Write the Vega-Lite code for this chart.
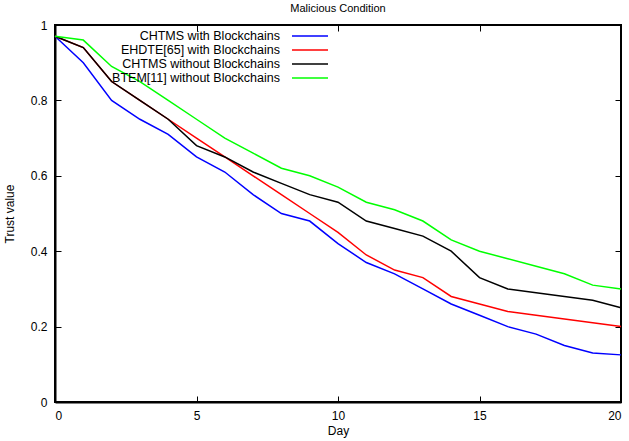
{
  "$schema": "https://vega.github.io/schema/vega-lite/v6.json",
  "autosize": "none",
  "width": 566,
  "height": 377,
  "padding": {"left": 55, "top": 25, "right": 8, "bottom": 39},
  "title": {"text": "Malicious Condition", "fontSize": 11, "fontWeight": "normal", "font": "Liberation Sans", "offset": 5, "anchor": "middle", "color": "black"},
  "config": {
    "font": "Liberation Sans",
    "view": {"stroke": "black", "strokeWidth": 2},
    "axis": {"grid": false, "domainColor": "black", "domainWidth": 2, "tickColor": "black", "tickWidth": 1, "labelColor": "black", "titleColor": "black", "labelFontSize": 12, "titleFontSize": 12, "titleFontWeight": "normal", "labelFont": "Liberation Sans", "titleFont": "Liberation Sans"}
  },
  "data": {"values": [
    {"day":0,"s":"CHTMS with Blockchains","v":0.97},{"day":1,"s":"CHTMS with Blockchains","v":0.90},{"day":2,"s":"CHTMS with Blockchains","v":0.80},{"day":3,"s":"CHTMS with Blockchains","v":0.75},{"day":4,"s":"CHTMS with Blockchains","v":0.71},{"day":5,"s":"CHTMS with Blockchains","v":0.65},{"day":6,"s":"CHTMS with Blockchains","v":0.61},{"day":7,"s":"CHTMS with Blockchains","v":0.55},{"day":8,"s":"CHTMS with Blockchains","v":0.50},{"day":9,"s":"CHTMS with Blockchains","v":0.48},{"day":10,"s":"CHTMS with Blockchains","v":0.42},{"day":11,"s":"CHTMS with Blockchains","v":0.37},{"day":12,"s":"CHTMS with Blockchains","v":0.34},{"day":13,"s":"CHTMS with Blockchains","v":0.30},{"day":14,"s":"CHTMS with Blockchains","v":0.26},{"day":15,"s":"CHTMS with Blockchains","v":0.23},{"day":16,"s":"CHTMS with Blockchains","v":0.20},{"day":17,"s":"CHTMS with Blockchains","v":0.18},{"day":18,"s":"CHTMS with Blockchains","v":0.15},{"day":19,"s":"CHTMS with Blockchains","v":0.13},{"day":20,"s":"CHTMS with Blockchains","v":0.125},
    {"day":0,"s":"EHDTE[65] with Blockchains","v":0.97},{"day":1,"s":"EHDTE[65] with Blockchains","v":0.94},{"day":2,"s":"EHDTE[65] with Blockchains","v":0.85},{"day":3,"s":"EHDTE[65] with Blockchains","v":0.80},{"day":4,"s":"EHDTE[65] with Blockchains","v":0.75},{"day":5,"s":"EHDTE[65] with Blockchains","v":0.70},{"day":6,"s":"EHDTE[65] with Blockchains","v":0.65},{"day":7,"s":"EHDTE[65] with Blockchains","v":0.60},{"day":8,"s":"EHDTE[65] with Blockchains","v":0.55},{"day":9,"s":"EHDTE[65] with Blockchains","v":0.50},{"day":10,"s":"EHDTE[65] with Blockchains","v":0.45},{"day":11,"s":"EHDTE[65] with Blockchains","v":0.39},{"day":12,"s":"EHDTE[65] with Blockchains","v":0.35},{"day":13,"s":"EHDTE[65] with Blockchains","v":0.33},{"day":14,"s":"EHDTE[65] with Blockchains","v":0.28},{"day":15,"s":"EHDTE[65] with Blockchains","v":0.26},{"day":16,"s":"EHDTE[65] with Blockchains","v":0.24},{"day":17,"s":"EHDTE[65] with Blockchains","v":0.23},{"day":18,"s":"EHDTE[65] with Blockchains","v":0.22},{"day":19,"s":"EHDTE[65] with Blockchains","v":0.21},{"day":20,"s":"EHDTE[65] with Blockchains","v":0.20},
    {"day":0,"s":"CHTMS without Blockchains","v":0.97},{"day":1,"s":"CHTMS without Blockchains","v":0.94},{"day":2,"s":"CHTMS without Blockchains","v":0.85},{"day":3,"s":"CHTMS without Blockchains","v":0.80},{"day":4,"s":"CHTMS without Blockchains","v":0.75},{"day":5,"s":"CHTMS without Blockchains","v":0.68},{"day":6,"s":"CHTMS without Blockchains","v":0.65},{"day":7,"s":"CHTMS without Blockchains","v":0.61},{"day":8,"s":"CHTMS without Blockchains","v":0.58},{"day":9,"s":"CHTMS without Blockchains","v":0.55},{"day":10,"s":"CHTMS without Blockchains","v":0.53},{"day":11,"s":"CHTMS without Blockchains","v":0.48},{"day":12,"s":"CHTMS without Blockchains","v":0.46},{"day":13,"s":"CHTMS without Blockchains","v":0.44},{"day":14,"s":"CHTMS without Blockchains","v":0.40},{"day":15,"s":"CHTMS without Blockchains","v":0.33},{"day":16,"s":"CHTMS without Blockchains","v":0.30},{"day":17,"s":"CHTMS without Blockchains","v":0.29},{"day":18,"s":"CHTMS without Blockchains","v":0.28},{"day":19,"s":"CHTMS without Blockchains","v":0.27},{"day":20,"s":"CHTMS without Blockchains","v":0.25},
    {"day":0,"s":"BTEM[11] without Blockchains","v":0.97},{"day":1,"s":"BTEM[11] without Blockchains","v":0.96},{"day":2,"s":"BTEM[11] without Blockchains","v":0.89},{"day":3,"s":"BTEM[11] without Blockchains","v":0.85},{"day":4,"s":"BTEM[11] without Blockchains","v":0.80},{"day":5,"s":"BTEM[11] without Blockchains","v":0.75},{"day":6,"s":"BTEM[11] without Blockchains","v":0.70},{"day":7,"s":"BTEM[11] without Blockchains","v":0.66},{"day":8,"s":"BTEM[11] without Blockchains","v":0.62},{"day":9,"s":"BTEM[11] without Blockchains","v":0.60},{"day":10,"s":"BTEM[11] without Blockchains","v":0.57},{"day":11,"s":"BTEM[11] without Blockchains","v":0.53},{"day":12,"s":"BTEM[11] without Blockchains","v":0.51},{"day":13,"s":"BTEM[11] without Blockchains","v":0.48},{"day":14,"s":"BTEM[11] without Blockchains","v":0.43},{"day":15,"s":"BTEM[11] without Blockchains","v":0.40},{"day":16,"s":"BTEM[11] without Blockchains","v":0.38},{"day":17,"s":"BTEM[11] without Blockchains","v":0.36},{"day":18,"s":"BTEM[11] without Blockchains","v":0.34},{"day":19,"s":"BTEM[11] without Blockchains","v":0.31},{"day":20,"s":"BTEM[11] without Blockchains","v":0.30}
  ]},
  "layer": [
    {
      "mark": {"type": "line", "strokeWidth": 1.5},
      "encoding": {
        "x": {"field": "day", "type": "quantitative", "scale": {"domain": [0, 20], "nice": false}, "axis": {"title": "Day", "values": [0,5,10,15,20], "tickSize": -6, "labelPadding": 14, "titlePadding": 4}},
        "y": {"field": "v", "type": "quantitative", "scale": {"domain": [0, 1], "nice": false}, "axis": {"title": "Trust value", "values": [0,0.2,0.4,0.6,0.8,1], "format": "~g", "tickSize": -6, "labelPadding": 14, "titlePadding": 14}},
        "color": {"field": "s", "type": "nominal", "sort": null,
          "scale": {"domain": ["CHTMS with Blockchains","EHDTE[65] with Blockchains","CHTMS without Blockchains","BTEM[11] without Blockchains"], "range": ["#0000ff","#ff0000","#000000","#00ff00"]},
          "legend": {"title": null, "orient": "none", "legendX": 248, "legendY": 4, "symbolType": "M-3,0H3", "symbolSize": 144, "symbolStrokeWidth": 1.5, "symbolFillColor": "transparent", "labelAlign": "right", "labelOffset": -37, "labelFontSize": 12.5, "labelColor": "black", "rowPadding": 0, "padding": 0, "labelLimit": 400}
        }
      }
    },
    {
      "mark": {"type": "line", "opacity": 0},
      "encoding": {
        "x": {"field": "day", "type": "quantitative", "scale": {"domain": [0, 20], "nice": false}, "axis": {"orient": "top", "title": null, "values": [0,5,10,15,20], "labels": false, "tickSize": -6, "domain": false}},
        "y": {"field": "v", "type": "quantitative", "scale": {"domain": [0, 1], "nice": false}, "axis": {"orient": "right", "title": null, "values": [0,0.2,0.4,0.6,0.8,1], "labels": false, "tickSize": -6, "domain": false}}
      }
    }
  ],
  "resolve": {"axis": {"x": "independent", "y": "independent"}}
}
